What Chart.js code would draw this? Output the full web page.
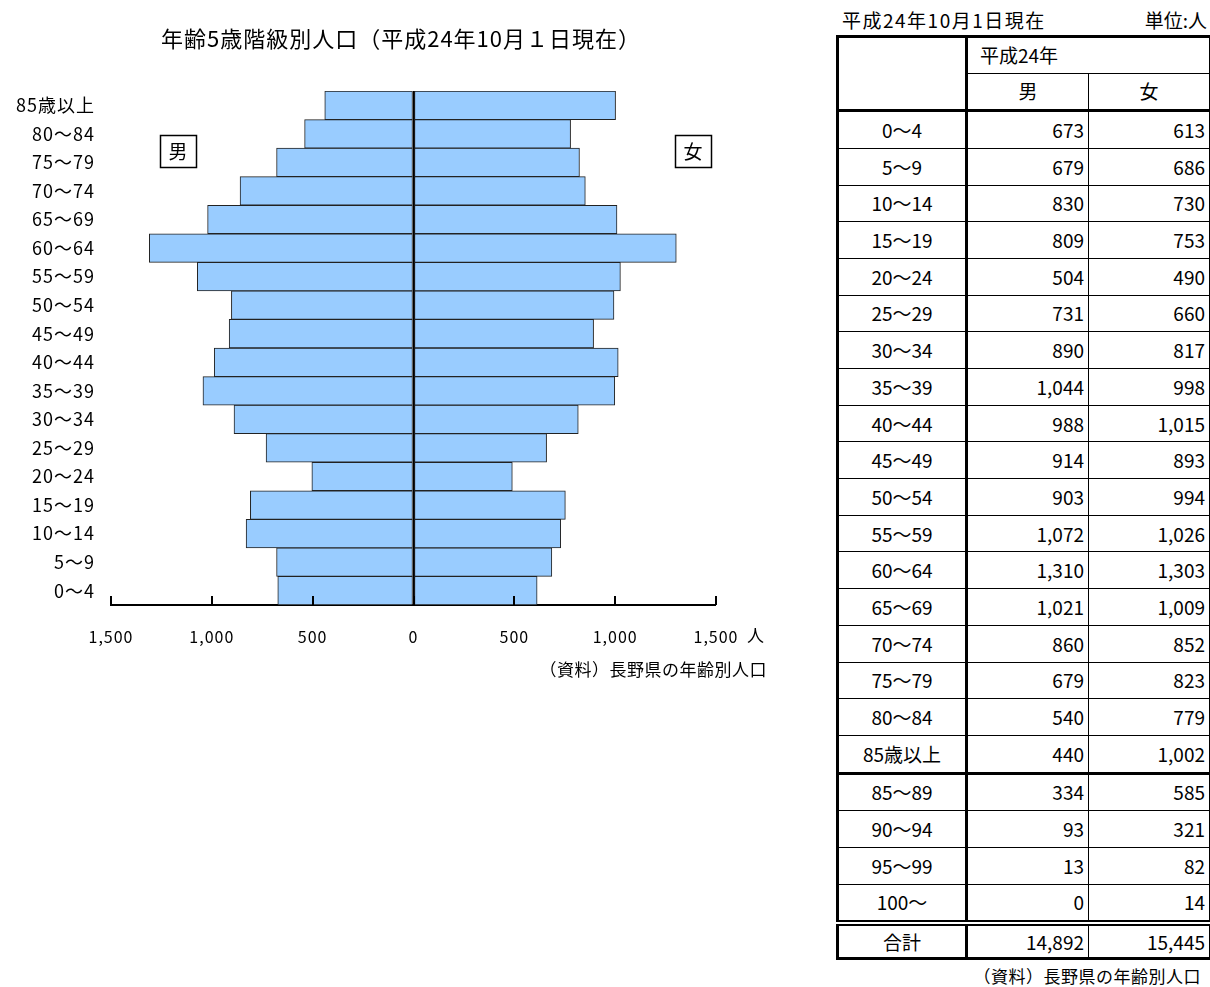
<!DOCTYPE html>
<html lang="ja">
<head>
<meta charset="utf-8">
<title>年齢5歳階級別人口</title>
<script src="https://cdn.jsdelivr.net/npm/chart.js@4.4.1/dist/chart.umd.min.js"></script>
<style>
  body { margin: 0; background: #fff; font-family: "Noto Sans CJK JP", sans-serif; color: #000; }
  #pyramid { position: absolute; left: 0; top: 0; }
  #side { position: absolute; left: 836px; top: 0; width: 373px; height: 987px; }
  #side .head { position: relative; height: 35px; font-size: 19px; }
  #side .head .date { position: absolute; left: 6px; top: 6px; letter-spacing: 1.5px; }
  #side .head .unit { position: absolute; right: 2px; top: 6px; }
  table { border-collapse: collapse; width: 373px; font-size: 19px; table-layout: fixed; }
  td { border: 1px solid #000; padding: 0 4px; height: 35.7px; line-height: 20px; }
  td.age { text-align: center; border-right: 3px solid #000; }
  td.num { text-align: right; }
  tr.top td { border-top: 3px solid #000; }
  tr.cut td { border-bottom: 3px solid #000; }
  tr.sum td { border-top: 6px double #000; height: 31px; }
  table { border: 3px solid #000; }
  .source { position: absolute; right: 8px; top: 963px; font-size: 17px; letter-spacing: 0.5px; }
</style>
</head>
<body>
<canvas id="pyramid" width="800" height="700"></canvas>
<div id="side">
  <div class="head"><span class="date">平成24年10月1日現在</span><span class="unit">単位:人</span></div>
  <table id="tbl"></table>
  <div class="source">（資料）長野県の年齢別人口</div>
</div>
<script>
// 5歳階級（グラフに使う18区分）
const ageGroups = ['0～4', '5～9', '10～14', '15～19', '20～24', '25～29', '30～34', '35～39',
  '40～44', '45～49', '50～54', '55～59', '60～64', '65～69', '70～74', '75～79', '80～84', '85歳以上'];
const maleCounts = [673, 679, 830, 809, 504, 731, 890, 1044, 988, 914, 903, 1072, 1310, 1021, 860, 679, 540, 440];
const femaleCounts = [613, 686, 730, 753, 490, 660, 817, 998, 1015, 893, 994, 1026, 1303, 1009, 852, 823, 779, 1002];

// 85歳以上の内訳（表のみ）
const oldGroups = ['85～89', '90～94', '95～99', '100～'];
const oldMale = [334, 93, 13, 0];
const oldFemale = [585, 321, 82, 14];

const totalMale = 14892;
const totalFemale = 15445;

const axisTicks = [-1500, -1000, -500, 0, 500, 1000, 1500];
const sexLabels = ['男', '女'];
const chartTitle = '年齢5歳階級別人口（平成24年10月１日現在）';

const FONT = '"Noto Sans CJK JP", sans-serif';
const fmt = v => Math.abs(v).toLocaleString('en-US');

// 表
const tbl = document.getElementById('tbl');
let html = '<colgroup><col style="width:129px"><col style="width:122px"><col style="width:122px"></colgroup>';
html += '<tr><td class="age" rowspan="2"></td>' +
  '<td colspan="2" style="padding-left:12px;height:34.5px">平成24年</td></tr>';
html += '<tr><td style="text-align:center;height:34.5px">' + sexLabels[0] + '</td>' +
  '<td style="text-align:center">' + sexLabels[1] + '</td></tr>';
ageGroups.forEach((g, i) => {
  const cls = i === 0 ? 'top' : (i === ageGroups.length - 1 ? 'cut' : '');
  html += `<tr class="${cls}"><td class="age">${g}</td><td class="num">${fmt(maleCounts[i])}</td><td class="num">${fmt(femaleCounts[i])}</td></tr>`;
});
oldGroups.forEach((g, i) => {
  html += `<tr><td class="age">${g}</td><td class="num">${fmt(oldMale[i])}</td><td class="num">${fmt(oldFemale[i])}</td></tr>`;
});
html += `<tr class="sum"><td class="age">合計</td><td class="num">${fmt(totalMale)}</td><td class="num">${fmt(totalFemale)}</td></tr>`;
tbl.innerHTML = html;

// 文字間隔を少し広げる（軸ラベル全体に効く）
const spacing = {
  id: 'spacing',
  beforeDraw(chart) {
    chart.ctx.letterSpacing = '1px';
  }
};

// タイトル、軸の目盛り（上向き）、単位、出典、男女ラベル
const extras = {
  id: 'extras',
  afterDraw(chart) {
    const { ctx, chartArea } = chart;
    const x = chart.scales.x;
    ctx.save();
    ctx.fillStyle = '#000';
    ctx.font = '22px ' + FONT;
    ctx.textAlign = 'center';
    ctx.textBaseline = 'middle';
    ctx.letterSpacing = '1px';
    ctx.fillText(chartTitle, 401, 39);

    ctx.strokeStyle = '#000';
    ctx.lineWidth = 2;
    x.ticks.forEach(t => {
      const px = Math.round(x.getPixelForValue(t.value));
      ctx.beginPath();
      ctx.moveTo(px, chartArea.bottom);
      ctx.lineTo(px, chartArea.bottom - 9);
      ctx.stroke();
    });
    ctx.font = '17px ' + FONT;
    ctx.letterSpacing = '0.5px';
    ctx.textAlign = 'left';
    ctx.fillText('人', x.getPixelForValue(1500) + 31, 636);
    ctx.textAlign = 'right';
    ctx.fillText('（資料）長野県の年齢別人口', 767, 670);

    // 男・女の枠
    ctx.letterSpacing = '0px';
    ctx.lineWidth = 1.5;
    ctx.font = '19px ' + FONT;
    ctx.textAlign = 'center';
    [[160, sexLabels[0]], [675, sexLabels[1]]].forEach(([bx, s]) => {
      ctx.strokeRect(bx + 0.5, 135.5, 36, 32);
      ctx.fillText(s, bx + 18, 152);
    });
    ctx.restore();
  }
};

new Chart(document.getElementById('pyramid'), {
  type: 'bar',
  data: {
    labels: ageGroups,
    datasets: [
      {
        label: '男',
        data: maleCounts.map(v => -v),
        backgroundColor: '#99ccff',
        borderColor: '#222',
        borderWidth: 1,
        borderSkipped: false
      },
      {
        label: '女',
        data: femaleCounts,
        backgroundColor: '#99ccff',
        borderColor: '#222',
        borderWidth: 1,
        borderSkipped: false
      }
    ]
  },
  options: {
    indexAxis: 'y',
    responsive: false,
    animation: false,
    layout: { padding: { left: 0, right: 84, bottom: 0, top: 91 } },
    datasets: { bar: { barPercentage: 1, categoryPercentage: 1 } },
    plugins: {
      legend: { display: false },
      tooltip: { enabled: false },
      title: { display: false }
    },
    scales: {
      x: {
        stacked: true,
        min: -1500,
        max: 1500,
        z: 1,
        afterBuildTicks: s => { s.ticks = axisTicks.map(v => ({ value: v })); },
        afterFit: s => { s.height = 95; },
        ticks: {
          color: '#000',
          font: { family: FONT, size: 16 },
          padding: 22,
          maxRotation: 0,
          callback: v => fmt(v)
        },
        grid: {
          drawTicks: false,
          color: c => (c.tick && c.tick.value === 0 ? '#000' : 'rgba(0,0,0,0)'),
          lineWidth: c => (c.tick && c.tick.value === 0 ? 2 : 0)
        },
        border: { display: true, color: '#000', width: 2 }
      },
      y: {
        stacked: true,
        reverse: true,
        afterFit: s => { s.width = 111; },
        ticks: {
          color: '#000',
          font: { family: FONT, size: 18 },
          padding: 16
        },
        grid: { display: false, drawTicks: false },
        border: { display: false }
      }
    }
  },
  plugins: [spacing, extras]
});
</script>
</body>
</html>
